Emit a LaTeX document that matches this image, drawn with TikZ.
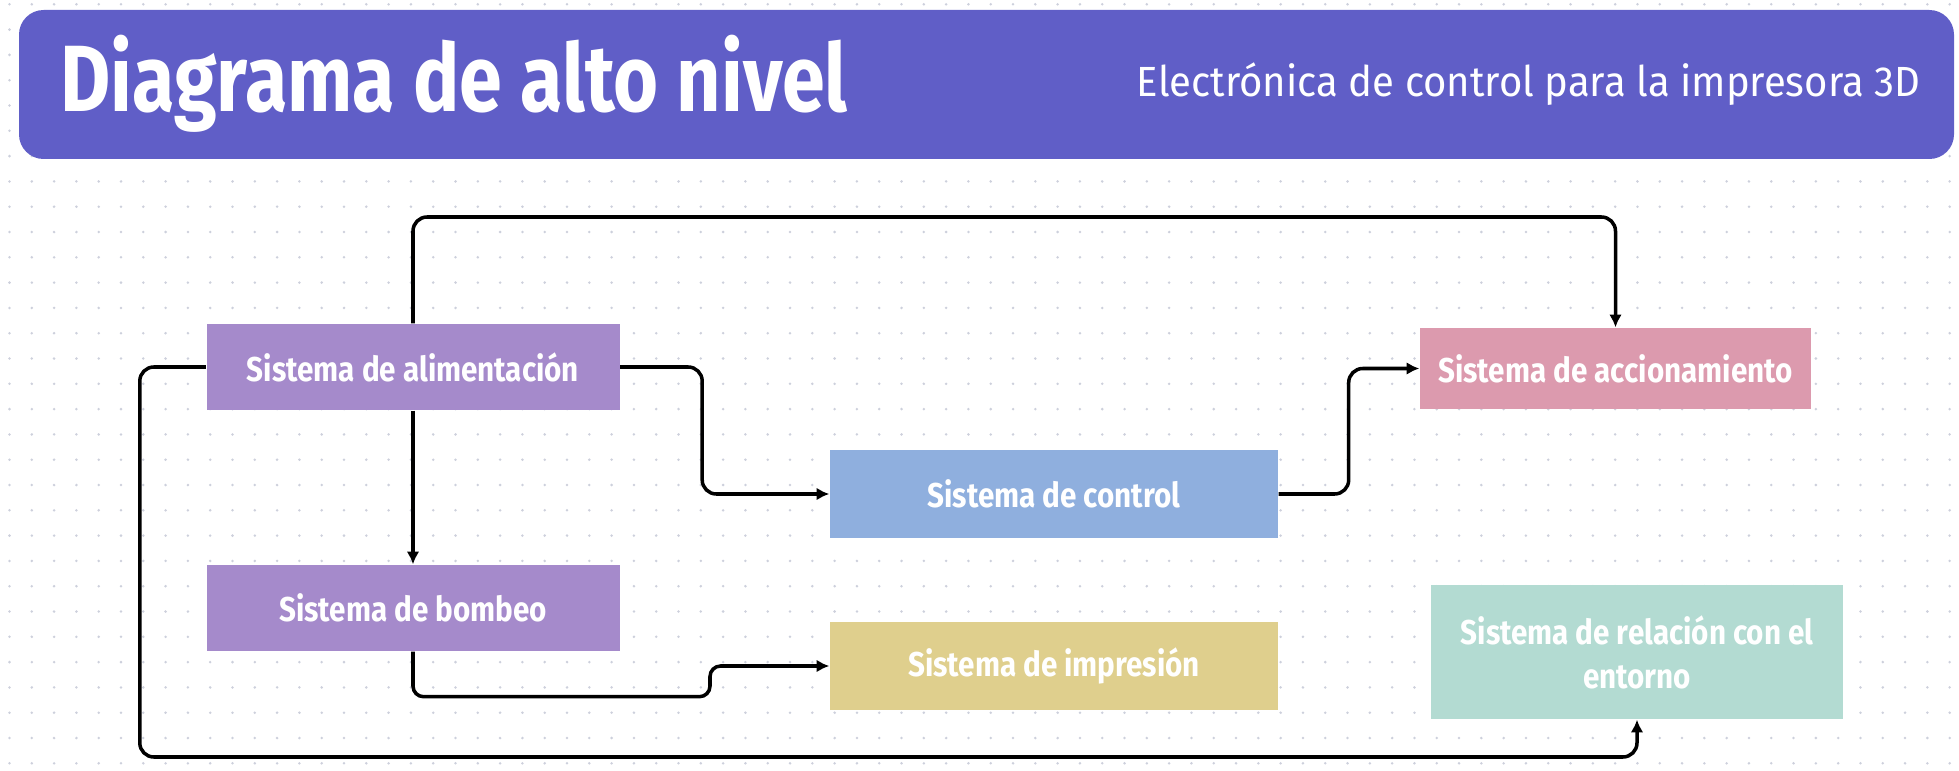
\documentclass[tikz,border=0pt]{standalone}
\usepackage{fontspec}
\usetikzlibrary{arrows.meta, positioning, calc}
\newfontfamily\diagfont[FakeStretch=0.86]{Fira Sans}
\newfontfamily\titlefont[FakeStretch=0.82]{Fira Sans}
\newfontfamily\subfont[FakeStretch=0.95]{Fira Sans}
\definecolor{headerblue}{RGB}{96, 94, 199}
\definecolor{dotgray}{RGB}{205, 208, 220}
\definecolor{alimpurple}{RGB}{165, 138, 203}
\definecolor{ctrlblue}{RGB}{143, 175, 222}
\definecolor{imprsand}{RGB}{223, 207, 141}
\definecolor{accpink}{RGB}{220, 154, 174}
\definecolor{relmint}{RGB}{179, 219, 210}

\tikzset{
  sysbox/.style={rectangle, draw=none, text=white, align=center, inner sep=0pt,
                 font=\diagfont\bfseries\fontsize{9.8}{12.5}\selectfont},
  conn/.style={-{Latex[length=3.6pt, width=3.6pt]}, line width=1pt, rounded corners=4pt},
}

\begin{document}
\begin{tikzpicture}
    \useasboundingbox (0, 0) rectangle (19.59, 7.70);

    % Dotted Canvas
    \foreach \i in {0,...,87}
        \foreach \j in {0,...,30}
            \fill[dotgray] (0.095 + 0.223*\i, 7.657 - 0.253*\j) circle (0.014);

    % Header Banner
    \fill[headerblue, rounded corners=7pt] (0.19, 6.11) rectangle (19.54, 7.60);
    \node[anchor=base west, inner sep=0pt, text=white, font=\titlefont\bfseries\fontsize{26.8}{30}\selectfont] (title) at (0.60, 6.58) {Diagrama de alto nivel};
    \node[anchor=base east, inner sep=0pt, text=white, font=\subfont\fontsize{12}{14}\selectfont] (subtitle) at (19.21, 6.73) {Electrónica de control para la impresora 3D};

    % Subsystems
    \node[sysbox, fill=alimpurple, minimum width=4.13cm, minimum height=0.86cm] (alim) at (4.13, 4.03) {Sistema de alimentación};
    \node[sysbox, fill=alimpurple, minimum width=4.13cm, minimum height=0.86cm] (bomb) at (4.13, 1.62) {Sistema de bombeo};
    \node[sysbox, fill=ctrlblue, minimum width=4.48cm, minimum height=0.88cm] (ctrl) at (10.54, 2.76) {Sistema de control};
    \node[sysbox, fill=imprsand, minimum width=4.48cm, minimum height=0.88cm] (impr) at (10.54, 1.04) {Sistema de impresión};
    \node[sysbox, fill=accpink, minimum width=3.91cm, minimum height=0.81cm] (acc) at (16.155, 4.015) {Sistema de accionamiento};
    \node[sysbox, fill=relmint, minimum width=4.12cm, minimum height=1.34cm] (rel) at (16.37, 1.18) {Sistema de relación con el\\entorno};

    % Routing Points
    \coordinate (topline) at (0, 5.53);
    \coordinate (botline) at (0, 0.13);

    % Connectors
    \draw[conn] (alim.north) -- (alim.north |- topline) -| (acc.north);
    \draw[conn] (alim.south) -- (bomb.north);
    \draw[conn] (alim.east) -- ++(0.82, 0) |- (ctrl.west);
    \draw[conn] (ctrl.east) -- ++(0.70, 0) |- (acc.west);
    \draw[conn, rounded corners=3pt] (bomb.south) |- ++(2.97, -0.45) |- (impr.west);
    \draw[conn] (alim.west) -- ++(-0.66, 0) |- (botline -| rel.south) -- (rel.south);
\end{tikzpicture}
\end{document}
